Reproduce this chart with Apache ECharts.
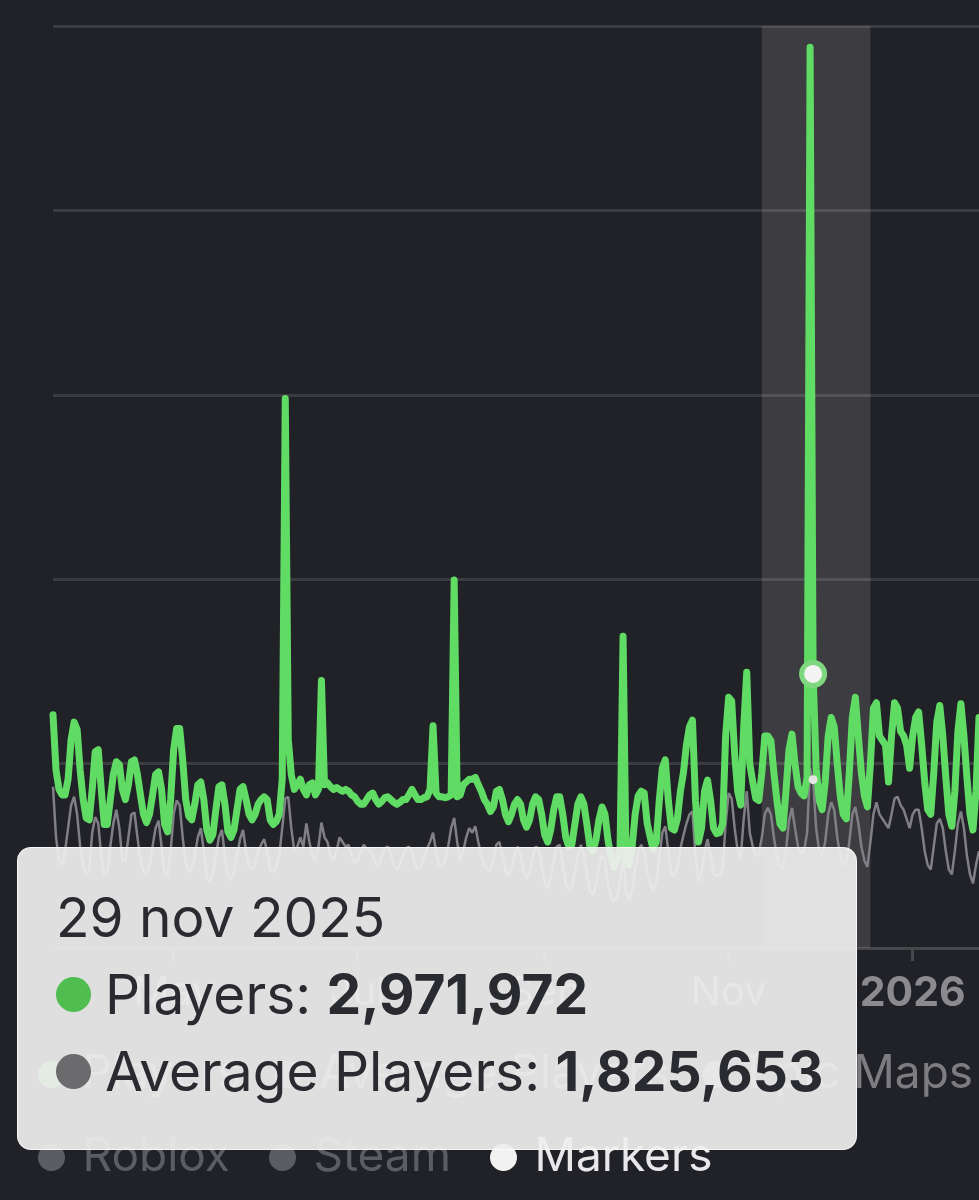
<!DOCTYPE html>
<html>
<head>
<meta charset="utf-8">
<script src="https://cdn.jsdelivr.net/npm/echarts@6/dist/echarts.min.js"></script>
<style>
html,body{margin:0;padding:0;background:#212227;}
#chart{width:979px;height:1200px;}
</style>
</head>
<body>
<div id="chart"></div>
<script>
// ---- data (values in thousands of players, one per day from startDate) ----
const startDate = [2025, 2, 22]; // 22 Mar 2025
const players = [
 2530,1930,1720,1660,1660,1830,2260,2450,2370,1930,
 1610,1410,1390,1720,2130,2150,1720,1340,1340,1610,
 1880,2020,1990,1720,1610,1770,2020,2040,1880,1660,
 1450,1360,1450,1660,1880,1910,1720,1340,1260,1610,
 2150,2380,2380,2040,1610,1430,1390,1560,1770,1800,
 1610,1280,1170,1230,1500,1750,1770,1560,1260,1200,
 1280,1500,1720,1750,1610,1450,1390,1450,1560,1610,
 1640,1610,1390,1340,1370,1450,1830,5960,2260,1880,
 1720,1770,1830,1720,1660,1770,1790,1660,1720,2900,
 1770,1790,1750,1720,1740,1720,1700,1720,1700,1660,
 1640,1590,1560,1560,1610,1660,1680,1610,1560,1590,
 1630,1640,1610,1580,1560,1580,1610,1610,1660,1720,
 1660,1610,1610,1630,1640,1720,2410,1680,1640,1640,
 1630,1640,1660,3990,1640,1660,1770,1800,1830,1830,
 1850,1770,1700,1610,1560,1480,1530,1700,1720,1610,
 1450,1370,1450,1560,1610,1560,1390,1310,1390,1560,
 1640,1610,1450,1230,1150,1280,1500,1640,1640,1450,
 1200,1100,1120,1340,1560,1640,1560,1340,1100,1050,
 1170,1390,1530,1450,1170,980,870,960,1070,3380,
 920,900,1100,1450,1650,1700,1680,1350,1200,1070,
 1150,1600,1950,2040,1600,1300,1280,1400,1700,1900,
 2200,2400,2470,1600,1150,1300,1700,1820,1600,1300,
 1240,1250,1350,2300,2720,2680,2100,1700,1550,2400,
 2990,2000,1800,1620,1600,1900,2300,2300,2250,1900,
 1600,1350,1300,1700,2150,2320,2000,1750,1680,1650,
 1850,9770,2971.972,1950,1600,1500,1800,2300,2500,2400,
 2000,1650,1450,1400,1900,2500,2720,2300,1900,1650,
 1530,2000,2600,2660,2300,2250,2200,1800,2300,2660,
 2600,2350,2300,2200,1950,2300,2500,2560,2200,1800,
 1500,1450,1900,2450,2630,2300,1850,1450,1320,1700,
 2350,2650,2300,1850,1450,1280,1700,2500
];
const averagePlayers = [
 1750,1200,950,900,1050,1300,1550,1640,1450,1100,
 900,800,850,1250,1420,1350,1000,780,820,1100,
 1350,1500,1300,950,950,1200,1450,1470,1200,950,
 820,800,900,1100,1300,1380,1100,800,780,1050,
 1450,1600,1550,1200,920,820,850,1000,1200,1300,
 1050,780,720,800,1000,1200,1280,1000,780,740,
 820,1000,1180,1280,1050,880,850,920,1050,1120,
 1180,1050,850,820,880,1000,1300,1620,1640,1300,
 1050,1100,1200,1100,1350,1150,1000,950,1100,1360,
 1200,1150,1000,950,1050,1200,1150,1100,1120,1000,
 920,950,1050,1120,1080,1050,1000,920,880,1000,
 1080,1100,1020,900,850,900,1000,1080,1100,1050,
 920,850,880,980,1080,1150,1250,1050,900,880,
 950,1100,1300,1410,1150,950,1050,1200,1300,1250,
 1320,1150,1000,900,850,850,950,1120,1150,1000,
 850,780,850,1000,1100,1020,850,750,820,980,
 1100,1080,900,720,650,750,950,1100,1120,920,
 700,620,650,820,1000,1120,1000,800,620,580,
 680,880,1020,950,700,550,500,560,720,1000,
 600,520,620,850,1050,1120,1050,820,700,620,
 700,980,1250,1320,1050,800,780,880,1080,1220,
 1350,1450,1480,1000,720,820,1050,1180,1000,820,
 780,800,850,1350,1680,1620,1300,1050,980,1400,
 1700,1250,1100,1000,1020,1200,1450,1520,1450,1200,
 1000,880,850,1050,1380,1520,1300,1100,1020,1050,
 1250,1950,1825.653,1300,1050,1000,1150,1450,1580,1500,
 1200,1000,920,900,1150,1450,1530,1350,1100,950,
 880,1150,1450,1580,1450,1400,1350,1300,1450,1620,
 1640,1550,1500,1400,1300,1450,1500,1500,1300,1050,
 900,850,1100,1350,1400,1300,1050,850,800,1050,
 1350,1480,1300,1000,800,700,900,1050
];
const tickLabels = {
 '2025-05-01': 'May',
 '2025-07-01': 'Jul',
 '2025-09-01': 'Sep',
 '2025-11-01': 'Nov',
 '2026-01-01': '2026'
};
const legendRow1 = ['Players', 'Average Players', 'Epic Maps'];
const legendRow2 = ['Roblox', 'Steam', 'Markers'];
const markerRange = ['2025-11-12', '2025-12-18'];
const tooltipDate = '2025-11-29';
const monthNames = ['jan','feb','mar','apr','may','jun','jul','aug','sep','oct','nov','dec'];

// ---- build categories ----
const dates = players.map((_, i) => new Date(Date.UTC(startDate[0], startDate[1], startDate[2] + i)).toISOString().slice(0, 10));
const tipIndex = dates.indexOf(tooltipDate);

const FONT = "Inter, 'Noto Sans', 'DejaVu Sans', sans-serif";
const GREEN = '#58c85b';
const GRAY = '#747479';

const fmt = v => Math.round(v * 1000).toLocaleString('en-US');
const dateLabel = s => {
  const d = new Date(s + 'T00:00:00Z');
  return d.getUTCDate() + ' ' + monthNames[d.getUTCMonth()] + ' ' + d.getUTCFullYear();
};

const chart = echarts.init(document.getElementById('chart'), null, {renderer: 'canvas'});

const row = (color, name, val) =>
  '<div style="display:flex;align-items:center;height:77px;white-space:nowrap">' +
  '<span style="display:inline-block;flex:none;width:35px;height:35px;border-radius:50%;background:' + color + ';margin-right:14px"></span>' +
  '<span style="font-size:55px;color:#2a2b30">' + name + ': <b style="font-weight:700">' + val + '</b></span></div>';

const legendCommon = {
  orient: 'horizontal', icon: 'circle', padding: 0,
  itemWidth: 52, itemHeight: 27,
  textStyle: {color: '#7c7c81', fontSize: 46, lineHeight: 55, fontFamily: FONT},
  inactiveColor: '#5c5d62',
  selected: {'Roblox': false, 'Steam': false}
};

const option = {
  backgroundColor: '#212227',
  animation: false,
  textStyle: {fontFamily: FONT},
  grid: {left: 53, right: 0, top: 26, bottom: 252, containLabel: false},
  xAxis: {
    type: 'category',
    data: dates,
    boundaryGap: false,
    axisLine: {show: true, lineStyle: {color: '#46474b', width: 3}},
    axisTick: {show: true, length: 13, interval: (i, v) => v in tickLabels, lineStyle: {color: '#46474b', width: 3}},
    axisLabel: {
      interval: (i, v) => v in tickLabels,
      formatter: v => /^\d/.test(tickLabels[v] || '') ? '{y|' + tickLabels[v] + '}' : (tickLabels[v] || ''),
      color: '#8a8a8f', fontSize: 40, margin: 25, fontFamily: FONT,
      rich: {y: {fontWeight: 'bold', fontSize: 41, color: '#8a8a8f', fontFamily: FONT}}
    },
    splitLine: {show: false}
  },
  yAxis: {
    type: 'value', min: 0, max: 10000, interval: 2000,
    axisLabel: {show: false}, axisLine: {show: false}, axisTick: {show: false},
    splitLine: {lineStyle: {color: '#3b3c40', width: 3}}
  },
  legend: [
    Object.assign({}, legendCommon, {
      data: legendRow1.map(n => ({name: n})),
      left: 38, top: 1047, itemGap: 33
    }),
    Object.assign({}, legendCommon, {
      data: legendRow2.map(n => n === 'Markers' ? {name: n, textStyle: {color: '#e8e8ea'}} : {name: n}),
      left: 38, top: 1130, itemGap: 39
    })
  ],
  tooltip: {
    trigger: 'axis',
    triggerOn: 'none',
    alwaysShowContent: true,
    axisPointer: {type: 'line', lineStyle: {opacity: 0}},
    position: [17, 847],
    backgroundColor: 'rgba(238,238,238,0.93)',
    borderColor: 'rgba(255,255,255,0.75)',
    borderWidth: 1,
    borderRadius: 14,
    padding: 0,
    transitionDuration: 0,
    extraCssText: 'box-shadow:none;width:840px;height:303px;box-sizing:border-box;',
    formatter: () => {
      return '<div style="padding:31px 0 0 38px;font-family:' + FONT + '">' +
        '<div style="font-size:55px;line-height:77px;height:77px;color:#2a2b30">' + dateLabel(dates[tipIndex]) + '</div>' +
        row('#4fbd4f', 'Players', fmt(players[tipIndex])) +
        row('#6b6b6d', 'Average Players', fmt(averagePlayers[tipIndex])) +
        '</div>';
    }
  },
  series: [
    {
      name: 'Average Players', type: 'line', data: averagePlayers, symbol: 'none', z: 2,
      lineStyle: {color: GRAY, width: 2.5}, itemStyle: {color: GRAY},
      markPoint: {
        silent: true, symbol: 'circle', symbolSize: 9, label: {show: false},
        itemStyle: {color: '#e4e4e4'},
        data: [{coord: [tooltipDate, averagePlayers[tipIndex]]}]
      }
    },
    {
      name: 'Players', type: 'line', data: players, symbol: 'none', z: 3,
      lineStyle: {color: GREEN, width: 7, join: 'round', cap: 'round'}, itemStyle: {color: GREEN},
      markPoint: {
        silent: true, symbol: 'circle', symbolSize: 23, label: {show: false},
        itemStyle: {color: '#f4f4f4', borderColor: '#7fd87f', borderWidth: 5},
        data: [{coord: [tooltipDate, players[tipIndex]]}]
      }
    },
    {name: 'Epic Maps', type: 'line', data: [], symbol: 'none', itemStyle: {color: '#8a8a8f'}},
    {name: 'Roblox', type: 'line', data: [], symbol: 'none', itemStyle: {color: '#5c5d62'}},
    {name: 'Steam', type: 'line', data: [], symbol: 'none', itemStyle: {color: '#5c5d62'}},
    {
      name: 'Markers', type: 'line', data: [], symbol: 'none', z: 4, itemStyle: {color: '#f2f2f2'},
      markArea: {
        silent: true,
        itemStyle: {color: 'rgba(255,255,255,0.12)'},
        data: [[{xAxis: markerRange[0]}, {xAxis: markerRange[1]}]]
      }
    }
  ]
};

chart.setOption(option);
chart.dispatchAction({type: 'showTip', seriesIndex: 1, dataIndex: tipIndex});
</script>
</body>
</html>
